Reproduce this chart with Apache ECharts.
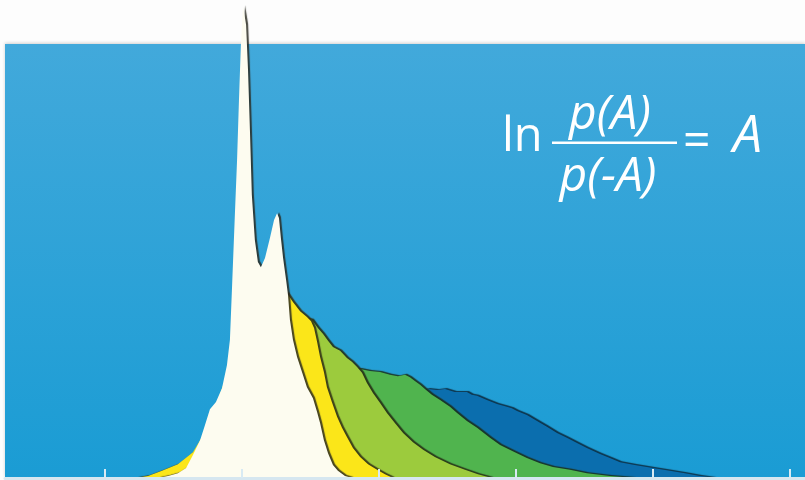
<!DOCTYPE html>
<html>
<head>
<meta charset="utf-8">
<style>
  html, body { margin: 0; padding: 0; background: #fdfdfd; }
  #chart { width: 805px; height: 480px; }
</style>
<script src="https://cdn.jsdelivr.net/npm/echarts@6/dist/echarts.min.js"></script>
</head>
<body>
<div id="chart"></div>
<script>
// Distributions of A, as [A, density] pairs (density in % of the axis height).
var distCream = [
  [-3.07, 0], [-2.70, 0.4], [-2.34, 1.0], [-2.04, 2.1], [-1.79, 4.8], [-1.53, 7.9],
  [-1.35, 11.1], [-1.17, 14.4], [-0.95, 15.9], [-0.73, 18.8], [-0.55, 23.6], [-0.44, 28.9],
  [-0.36, 40.4], [-0.26, 55.0], [-0.18, 66.5], [-0.11, 79.1], [-0.04, 90.6], [0.04, 98.7],
  [0.15, 94.8], [0.22, 85.4], [0.29, 72.8], [0.36, 59.2], [0.47, 49.8], [0.58, 45.2],
  [0.69, 44.1], [0.84, 46.0], [1.02, 50.2], [1.17, 54.0], [1.28, 55.4], [1.35, 54.4],
  [1.42, 50.2], [1.50, 46.0], [1.61, 41.4], [1.68, 38.3], [1.75, 33.1], [1.86, 28.9],
  [2.01, 25.3], [2.19, 22.2], [2.37, 19.0], [2.59, 16.7], [2.74, 13.8], [2.85, 11.5],
  [2.99, 7.9], [3.14, 5.2], [3.32, 2.7], [3.50, 1.5], [3.76, 0.4], [4.01, 0]
];
var distYellow = [
  [-3.87, 0], [-3.43, 0.4], [-2.92, 1.5], [-2.34, 2.9], [-1.79, 5.4], [-1.35, 9.6],
  [-0.99, 14.6], [-0.62, 20.5], [-0.26, 27.8], [0.29, 33.5], [1.02, 37.2], [1.64, 38.7],
  [1.86, 36.8], [2.12, 34.9], [2.37, 33.7], [2.52, 32.8], [2.63, 31.4], [2.74, 28.5],
  [2.85, 25.3], [2.99, 22.2], [3.10, 19.0], [3.28, 15.9], [3.47, 12.8], [3.65, 10.5],
  [3.83, 8.6], [4.05, 6.3], [4.31, 4.4], [4.60, 2.9], [4.93, 1.7], [5.22, 0.8], [5.51, 0]
];
var distLime = [
  [-0.07, 0], [0.47, 12.1], [1.02, 22.6], [1.57, 29.9], [2.12, 33.5], [2.55, 33.1],
  [2.77, 31.4], [2.96, 30.1], [3.14, 28.7], [3.32, 27.4], [3.58, 26.6], [3.83, 25.1],
  [4.01, 24.3], [4.20, 23.2], [4.38, 22.0], [4.56, 19.9], [4.78, 17.8], [5.04, 15.7],
  [5.29, 13.6], [5.58, 11.5], [5.88, 9.4], [6.24, 7.5], [6.61, 5.9], [7.04, 4.4],
  [7.59, 2.9], [8.14, 1.7], [8.61, 0.8], [9.12, 0]
];
var distGreen = [
  [0.47, 0], [1.20, 12.1], [2.12, 19.5], [3.21, 22.2], [4.31, 22.8], [4.67, 22.4],
  [5.04, 22.2], [5.40, 21.6], [5.69, 21.3], [5.95, 21.6], [6.13, 21.1], [6.31, 20.3],
  [6.50, 19.5], [6.72, 18.4], [6.93, 17.4], [7.23, 16.3], [7.59, 14.9], [7.85, 13.6],
  [8.21, 11.9], [8.58, 10.5], [9.05, 8.4], [9.42, 6.9], [9.96, 5.4], [10.40, 4.2],
  [10.88, 3.1], [11.35, 2.3], [11.97, 1.7], [12.59, 1.0], [13.43, 0.4], [14.34, 0]
];
var distNavy = [
  [1.02, 0], [2.12, 7.9], [3.58, 14.2], [5.04, 16.7], [6.50, 18.2], [6.79, 18.6],
  [7.12, 18.4], [7.41, 18.6], [7.77, 18.0], [8.21, 18.0], [8.39, 17.4], [8.58, 17.2],
  [8.94, 16.3], [9.31, 15.5], [9.67, 14.9], [9.85, 14.6], [10.04, 14.0], [10.40, 13.2],
  [10.77, 11.9], [11.13, 10.7], [11.50, 9.4], [11.86, 8.4], [12.23, 7.3], [12.59, 6.3],
  [13.07, 5.0], [13.43, 4.2], [13.80, 3.3], [14.34, 2.7], [15.00, 2.1], [15.62, 1.5],
  [16.17, 1.0], [16.72, 0.4], [17.26, 0]
];
var tickValues = [-5, 0, 5, 10, 15, 20];

var chart = echarts.init(document.getElementById('chart'), null, { renderer: 'canvas' });

function layer(data, color, z, edge) {
  return {
    type: 'line',
    data: data,
    z: z,
    showSymbol: false,
    silent: true,
    lineStyle: { width: 0, opacity: 0 },
    areaStyle: {
      color: color,
      opacity: 1,
      shadowColor: edge,
      shadowBlur: 1,
      shadowOffsetX: 2,
      shadowOffsetY: -1
    }
  };
}

var mathFont = '"Open Sans", "Noto Sans", sans-serif';

function mathText(str, x, y, size, italic, align) {
  return {
    type: 'text', z: 20, x: x, y: y,
    style: {
      text: str, fill: '#ffffff',
      font: (italic ? 'italic ' : '') + size + 'px ' + mathFont,
      textAlign: align || 'left', textVerticalAlign: 'middle'
    }
  };
}

chart.setOption({
  backgroundColor: '#fdfdfd',
  animation: false,
  grid: { left: 5, right: 0, top: 0, bottom: 2 },
  xAxis: {
    type: 'value',
    min: -8.65,
    max: 20.55,
    z: 10,
    axisLine: { show: true, lineStyle: { color: '#d6e7f0', width: 3 } },
    axisTick: {
      show: true, inside: true, length: 9,
      customValues: tickValues,
      lineStyle: { color: '#d8eaf3', width: 2 }
    },
    axisLabel: { show: false },
    splitLine: { show: false }
  },
  yAxis: {
    type: 'value',
    min: 0,
    max: 100,
    show: false,
    splitLine: { show: false }
  },
  graphic: [
    {
      type: 'rect',
      z: 0,
      shape: { x: 5, y: 44, width: 800, height: 434 },
      style: {
        fill: new echarts.graphic.LinearGradient(0, 0, 0, 1, [
          { offset: 0, color: '#42a9db' },
          { offset: 1, color: '#1a9cd4' }
        ]),
        shadowColor: 'rgba(0,0,0,0.18)',
        shadowBlur: 3,
        shadowOffsetY: -1
      }
    },
    mathText('ln', 502, 138, 47, false),
    mathText('p(A)', 610, 115, 48, true, 'center'),
    { type: 'rect', z: 20, shape: { x: 552, y: 141.5, width: 125, height: 2.5 },
      style: { fill: '#ffffff' } },
    mathText('p(-A)', 608, 177, 48, true, 'center'),
    mathText('=', 683, 142, 48, false),
    mathText('A', 733, 137, 52, true)
  ],
  series: [
    layer(distNavy, '#0b6eae', 2, 'rgba(10,40,60,0.9)'),
    layer(distGreen, '#50b44e', 3, 'rgba(25,45,25,0.9)'),
    layer(distLime, '#9ccb3d', 4, 'rgba(35,45,20,0.9)'),
    layer(distYellow, '#fbe619', 5, 'rgba(50,50,20,0.9)'),
    layer(distCream, '#fdfcf0', 6, 'rgba(40,40,30,0.85)')
  ]
});
</script>
</body>
</html>
